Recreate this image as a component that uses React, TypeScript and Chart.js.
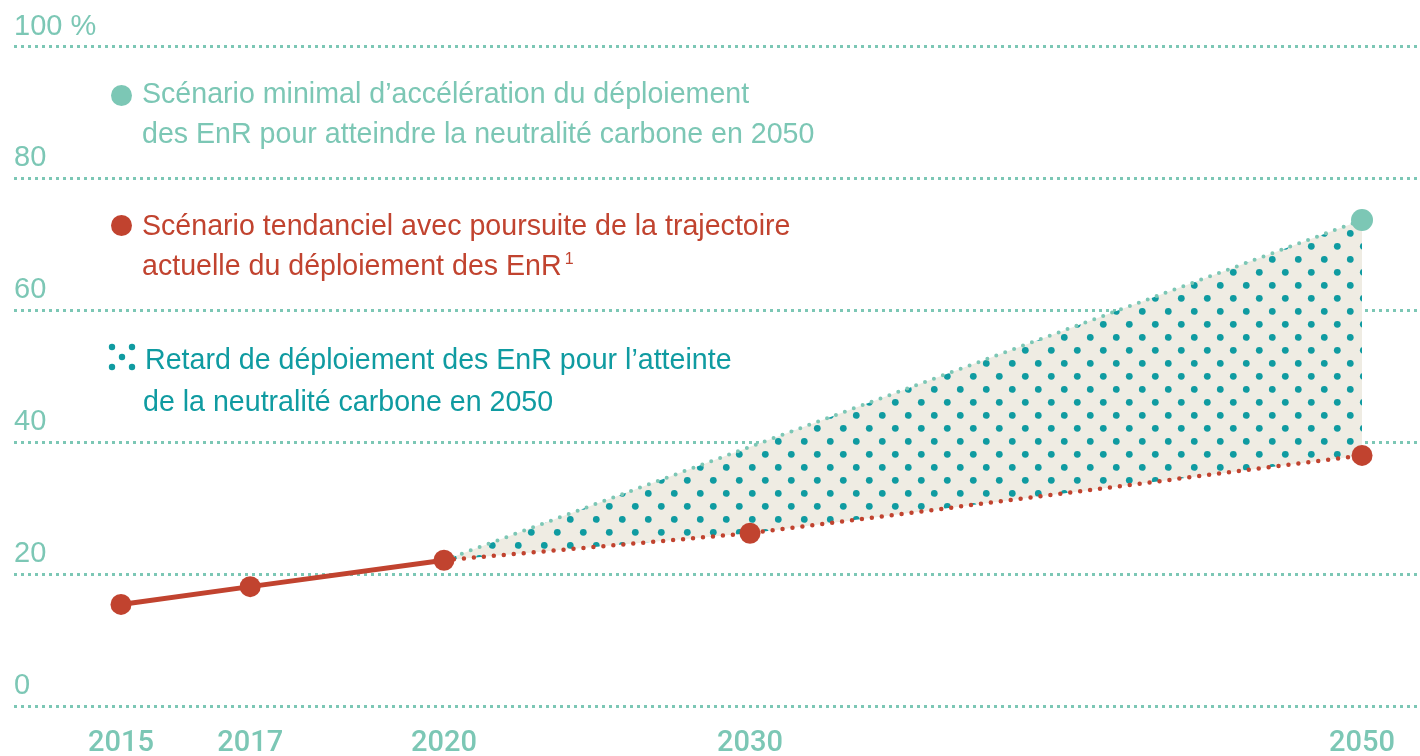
import React, { useEffect, useRef } from 'react';
import { Chart, registerables } from 'chart.js';

Chart.register(...registerables);

// ---- data ----
const years = [2015, 2017, 2020, 2030, 2050];
const trendValues = [15.4, 18.1, 22.1, 26.2, 38.0];
const minimalValues: (number | null)[] = [null, null, 22.1, null, 73.7];
const yTickValues = [0, 20, 40, 60, 80, 100];

const legendMinimal = ['Scénario minimal d’accélération du déploiement', 'des EnR pour atteindre la neutralité carbone en 2050'];
const legendTrend = ['Scénario tendanciel avec poursuite de la trajectoire', 'actuelle du déploiement des EnR'];
const legendGap = ['Retard de déploiement des EnR pour l’atteinte', 'de la neutralité carbone en 2050'];

// ---- styles ----
const LIGHT_TEAL = '#7cc7b5';
const DARK_TEAL = '#0f9ba1';
const RED = '#c1432f';
const BEIGE = '#efece3';
const FONT = "'Liberation Sans', Arial, sans-serif";
const FONT_X = "Roboto, 'Liberation Sans', Arial, sans-serif";

// the time axis is compressed after 2020
const AFTER_2020 = 0.4737;
const pos = (y: number) => (y <= 2020 ? y : 2020 + (y - 2020) * AFTER_2020);

function makePattern(ctx: CanvasRenderingContext2D) {
  const s = 26;
  const c = document.createElement('canvas');
  c.width = s;
  c.height = s;
  const g = c.getContext('2d')!;
  g.fillStyle = BEIGE;
  g.fillRect(0, 0, s, s);
  g.fillStyle = DARK_TEAL;
  const base = [
    [11.3, 12.3],
    [24.3, 25.3],
  ];
  for (const [px, py] of base) {
    for (const dx of [-s, 0, s]) {
      for (const dy of [-s, 0, s]) {
        g.beginPath();
        g.arc(px + dx, py + dy, 3.4, 0, Math.PI * 2);
        g.fill();
      }
    }
  }
  return ctx.createPattern(c, 'repeat')!;
}

export default function App() {
  const ref = useRef<HTMLCanvasElement>(null);

  useEffect(() => {
    const canvas = ref.current!;
    const ctx = canvas.getContext('2d')!;
    const pattern = makePattern(ctx);

    const trendData = years.map((y, i) => ({ x: pos(y), y: trendValues[i] }));
    const minimalData = years.map((y, i) => ({ x: pos(y), y: minimalValues[i] }));

    const chart = new Chart(canvas, {
      type: 'line',
      data: {
        datasets: [
          {
            label: 'tendanciel',
            data: trendData as any,
            borderColor: RED,
            backgroundColor: RED,
            borderWidth: 5,
            borderCapStyle: 'round',
            pointRadius: 10.5,
            pointBackgroundColor: RED,
            pointBorderWidth: 0,
            pointHoverRadius: 10.5,
            fill: false,
            tension: 0,
            clip: false,
            segment: {
              borderDash: (c: any) => (c.p0DataIndex >= 2 ? [0, 10] : undefined),
              borderWidth: (c: any) => (c.p0DataIndex >= 2 ? 4.5 : 5),
            },
          } as any,
          {
            label: 'minimal',
            data: minimalData as any,
            borderColor: LIGHT_TEAL,
            borderWidth: 4,
            borderDash: [0, 9.5],
            borderCapStyle: 'round',
            spanGaps: true,
            pointRadius: (c: any) => (c.dataIndex === 4 ? 11 : 0),
            pointHoverRadius: (c: any) => (c.dataIndex === 4 ? 11 : 0),
            pointBackgroundColor: LIGHT_TEAL,
            pointBorderWidth: 0,
            backgroundColor: pattern,
            fill: { target: 0 },
            tension: 0,
            clip: false,
          } as any,
        ],
      },
      options: {
        animation: false,
        responsive: true,
        maintainAspectRatio: false,
        layout: { autoPadding: false, padding: { top: 46.5, left: 14, right: 0, bottom: 0 } },
        plugins: {
          legend: { display: false },
          tooltip: { enabled: false },
        },
        events: [],
        scales: {
          x: {
            type: 'linear',
            min: 2013.3437,
            max: 2035.1084,
            grid: { display: false, drawTicks: false },
            border: { display: false },
            afterBuildTicks: (axis: any) => {
              axis.ticks = years.map((y) => ({ value: pos(y) }));
            },
            afterFit: (s: any) => {
              s.height = 50;
              s.paddingLeft = 0;
              s.paddingRight = 0;
            },
            ticks: {
              autoSkip: false,
              maxRotation: 0,
              color: LIGHT_TEAL,
              padding: 20,
              font: { family: FONT_X, size: 29, weight: 500 },
              callback: (_v: any, i: number) => String(years[i]),
            },
          },
          y: {
            min: 0,
            max: 100,
            afterBuildTicks: (axis: any) => {
              axis.ticks = yTickValues.map((v) => ({ value: v }));
            },
            afterFit: (s: any) => {
              s.width = 0;
              s.paddingTop = 0;
              s.paddingBottom = 0;
            },
            grid: { color: LIGHT_TEAL, lineWidth: 3, drawTicks: false },
            border: { display: false, dash: [3, 4] },
            ticks: {
              mirror: true,
              padding: 0,
              labelOffset: -20,
              color: LIGHT_TEAL,
              font: { family: FONT, size: 29 },
              callback: (v: any) => (v === 100 ? '100 %' : String(v)),
            },
          },
        } as any,
      },
    });
    return () => chart.destroy();
  }, []);

  const textBase: React.CSSProperties = {
    position: 'absolute',
    fontFamily: FONT,
    fontSize: 28.6,
    whiteSpace: 'nowrap',
  };
  const dot = (left: number, top: number, color: string): React.CSSProperties => ({
    position: 'absolute',
    left,
    top,
    width: 21,
    height: 21,
    borderRadius: '50%',
    background: color,
  });

  return (
    <div style={{ position: 'fixed', left: 0, top: 0, width: 1420, height: 756, background: '#fff', overflow: 'hidden' }}>
      <canvas ref={ref} style={{ position: 'absolute', left: 0, top: 0 }} />
      <div style={{ position: 'absolute', left: 0, top: 0, width: 1420, height: 756 }}>
        <div style={dot(110.5, 84.5, LIGHT_TEAL)} />
        <div style={{ ...textBase, left: 142, top: 73, lineHeight: '40px', color: LIGHT_TEAL }}>
          <div>{legendMinimal[0]}</div>
          <div>{legendMinimal[1]}</div>
        </div>

        <div style={dot(110.5, 214.5, RED)} />
        <div style={{ ...textBase, left: 142, top: 205, lineHeight: '40px', color: RED }}>
          <div>{legendTrend[0]}</div>
          <div>
            {legendTrend[1]}
            <span style={{ fontSize: 16, position: 'relative', top: -11, marginLeft: 3 }}>1</span>
          </div>
        </div>

        <svg style={{ position: 'absolute', left: 100, top: 335 }} width={45} height={45}>
          {[
            [12, 12],
            [32, 12],
            [22, 22],
            [12, 32],
            [32, 32],
          ].map(([cx, cy], i) => (
            <circle key={i} cx={cx} cy={cy} r={3.2} fill={DARK_TEAL} />
          ))}
        </svg>
        <div style={{ ...textBase, left: 145, top: 338, lineHeight: '42px', color: DARK_TEAL }}>
          <div>{legendGap[0]}</div>
          <div style={{ marginLeft: -2 }}>{legendGap[1]}</div>
        </div>
      </div>
    </div>
  );
}
